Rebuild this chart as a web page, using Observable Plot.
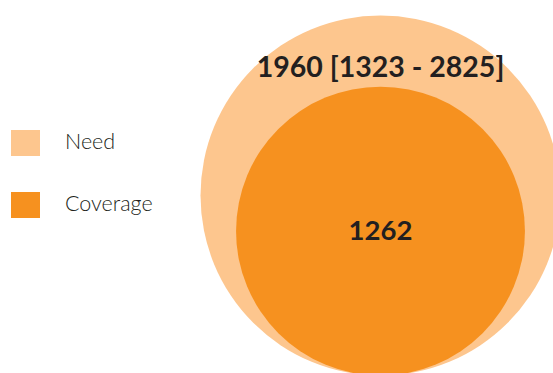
<!DOCTYPE html>
<html>
<head>
<meta charset="utf-8">
<script src="https://cdn.jsdelivr.net/npm/d3@7"></script>
<script src="https://cdn.jsdelivr.net/npm/@observablehq/plot@0.6"></script>
<style>
  html, body { margin: 0; padding: 0; background: #fff; }
  #wrap { position: relative; width: 553px; height: 373px; overflow: hidden; }
  #legend { position: absolute; left: 11px; top: 130px; font-family: Lato, "Open Sans", sans-serif; font-size: 21.5px; font-weight: 300; color: #231f20; }
  .item { display: flex; align-items: center; height: 26px; margin-bottom: 36px; }
  .item span { position: relative; top: -2px; }
  .sw { width: 29px; height: 26px; margin-right: 25px; }
</style>
</head>
<body>
<div id="wrap">
  <div id="chart"></div>
  <div id="legend"></div>
</div>
<script>
const categories = ["Need", "Coverage"];
const values = [1960, 1262];
const labels = ["1960 [1323 - 2825]", "1262"];
const colors = ["#fdc68e", "#f6911f"];

const data = categories.map((c, i) => ({category: c, value: values[i], label: labels[i]}));

const chart = Plot.plot({
  width: 553,
  height: 373,
  marginLeft: 207,
  marginRight: 0,
  marginTop: 0,
  marginBottom: 0,
  y: {domain: [0, Math.sqrt(values[0])], range: [375, 195], axis: null},
  r: {domain: [0, values[0]], range: [0, 180]},
  color: {domain: categories, range: colors},
  marks: [
    Plot.dot(data, {y: d => Math.sqrt(d.value), r: "value", fill: "category", stroke: null}),
    Plot.text([data[0]], {y: d => Math.sqrt(d.value), text: "label", dy: -128, fontSize: 28.5, fontWeight: 700, fill: "#231f20", fontFamily: "Lato, sans-serif"}),
    Plot.text([data[1]], {y: d => Math.sqrt(d.value), text: "label", dy: 0, fontSize: 27.5, fontWeight: 700, fill: "#231f20", fontFamily: "Lato, sans-serif"})
  ]
});
document.getElementById("chart").appendChild(chart);

const legend = document.getElementById("legend");
categories.forEach((c, i) => {
  const item = document.createElement("div");
  item.className = "item";
  const sw = document.createElement("div");
  sw.className = "sw";
  sw.style.background = colors[i];
  const t = document.createElement("span");
  t.textContent = c;
  item.appendChild(sw);
  item.appendChild(t);
  legend.appendChild(item);
});
</script>
</body>
</html>
